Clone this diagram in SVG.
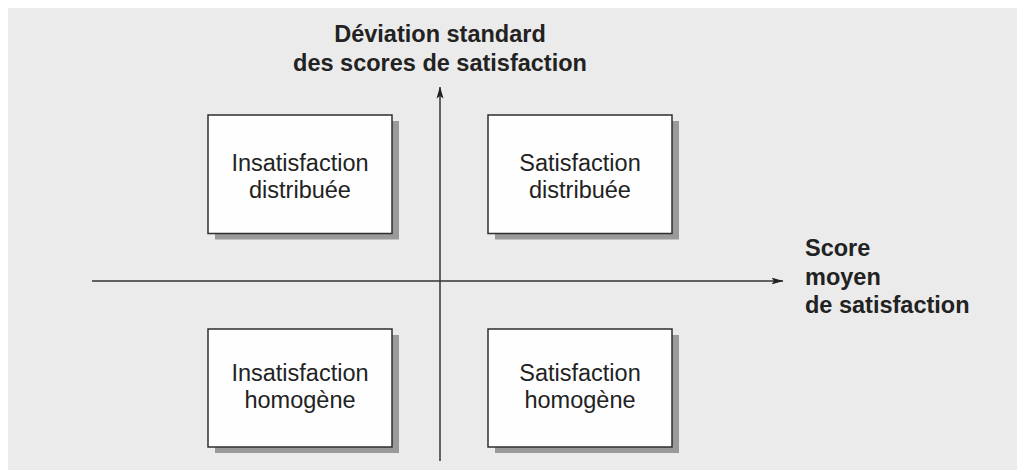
<svg xmlns="http://www.w3.org/2000/svg" width="1017" height="471" viewBox="0 0 1017 471">
<style>
.box{fill:#fefefe;stroke:#2e2e2e;stroke-width:1.5}
.shadow{fill:#9a9a9a}
.lbl{font-family:"Liberation Sans",Arial,sans-serif;font-size:23.5px;fill:#222;text-anchor:middle}
.axis-lbl{font-family:"Liberation Sans",Arial,sans-serif;font-size:23.5px;font-weight:bold;fill:#222}
.axis{stroke:#333;stroke-width:1.5;fill:none}
</style>
<defs>
<marker id="arr" viewBox="0 0 12 8" refX="11.5" refY="4" markerWidth="12" markerHeight="8" markerUnits="userSpaceOnUse" orient="auto">
<path d="M0,0.5 L12,4 L0,7.5 L2.5,4 Z" fill="#222"/>
</marker>
</defs>
<rect x="8" y="8" width="1009" height="462" fill="#ebebeb"/>
<g id="connectors">
<line class="axis" x1="92" y1="281" x2="783" y2="281" marker-end="url(#arr)"/>
<line class="axis" x1="440" y1="461" x2="440" y2="87" marker-end="url(#arr)"/>
</g>
<g id="label-y">
<text class="axis-lbl" x="440" y="42" text-anchor="middle">Déviation standard</text>
<text class="axis-lbl" x="440" y="71" text-anchor="middle">des scores de satisfaction</text>
</g>
<g id="label-x">
<text class="axis-lbl" x="805" y="256">Score</text>
<text class="axis-lbl" x="805" y="285">moyen</text>
<text class="axis-lbl" x="805" y="313">de satisfaction</text>
</g>
<g id="insat-distribuee">
<rect class="shadow" x="215" y="121" width="184" height="118.5"/>
<rect class="box" x="208" y="115" width="184" height="118.5"/>
<text class="lbl" x="300" y="171">Insatisfaction</text>
<text class="lbl" x="300" y="198">distribuée</text>
</g>
<g id="sat-distribuee">
<rect class="shadow" x="495" y="121" width="184" height="118.5"/>
<rect class="box" x="488" y="115" width="184" height="118.5"/>
<text class="lbl" x="580" y="171">Satisfaction</text>
<text class="lbl" x="580" y="198">distribuée</text>
</g>
<g id="insat-homogene">
<rect class="shadow" x="215" y="335" width="184" height="118"/>
<rect class="box" x="208" y="329" width="184" height="118"/>
<text class="lbl" x="300" y="381">Insatisfaction</text>
<text class="lbl" x="300" y="408">homogène</text>
</g>
<g id="sat-homogene">
<rect class="shadow" x="495" y="335" width="184" height="118"/>
<rect class="box" x="488" y="329" width="184" height="118"/>
<text class="lbl" x="580" y="381">Satisfaction</text>
<text class="lbl" x="580" y="408">homogène</text>
</g>
</svg>
